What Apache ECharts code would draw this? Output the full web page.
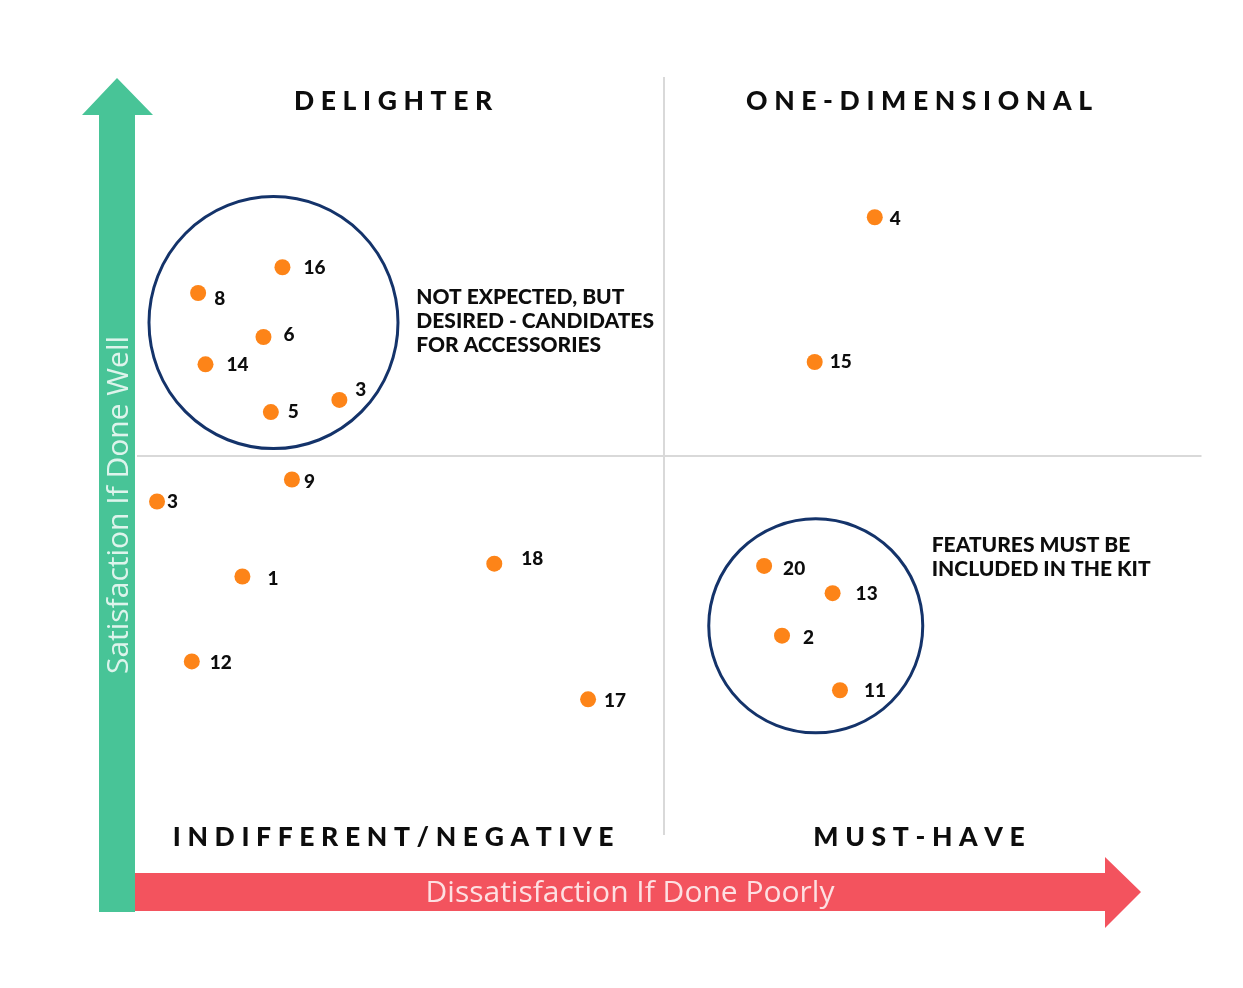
<!DOCTYPE html>
<html>
<head>
	<meta charset="utf-8">
	<title>Kano</title>
	<script type="text/javascript" src="https://cdn.jsdelivr.net/npm/echarts@6/dist/echarts.min.js"></script>
	<style>body{margin:0;background:#fff;}</style>
</head>
<body>
	<div id="main" style="width:1243px;height:988px;"></div>
	<script type="text/javascript">
// feature numbers and their scores (x: dissatisfaction if done poorly, y: satisfaction if done well)
var features = ['16', '8', '6', '14', '5', '3', '4', '15', '9', '3', '1', '18', '12', '17', '20', '13', '2', '11'];
var dissatisfaction = [13.8, 5.8, 12.0, 6.5, 12.7, 19.2, 70.0, 64.3, 14.7, 1.9, 10.0, 33.9, 5.2, 42.8, 59.5, 66.0, 61.2, 66.7];
var satisfaction = [74.9, 71.5, 65.7, 62.1, 55.8, 57.4, 81.5, 62.4, 46.9, 44.0, 34.1, 35.8, 22.9, 17.9, 35.5, 31.9, 26.3, 19.1];

var quadrantNames = ['DELIGHTER', 'ONE-DIMENSIONAL', 'INDIFFERENT/NEGATIVE', 'MUST-HAVE'];
var notes = ['NOT EXPECTED, BUT\nDESIRED - CANDIDATES\nFOR ACCESSORIES', 'FEATURES MUST BE\nINCLUDED IN THE KIT'];
var xAxisName = 'Dissatisfaction If Done Poorly';
var yAxisName = 'Satisfaction If Done Well';

// layout only
var quadrantPos = [[24.3, 96.8], [74.2, 96.8], [24.3, -0.35], [74.2, -0.35]];
var notePos = [[26.5, 67.8], [75.4, 36.6]];
var rings = [{c: [12.95, 67.6], size: [249, 252]}, {c: [64.4, 27.6], size: [214, 214]}];
var labelNudge = [[13, 1], [8, 6], [12, -2], [13, 1], [9, 0], [8, -10], [7, 2], [7, 0], [4, 2],
    [2, 0], [17, 2], [19, -5], [10, 1], [8, 2], [11, 3], [15, 1], [13, 2], [16, 1]];

var spaced = function (s) {
    return s.split('').join('\u2005');
};

var points = features.map(function (f, i) {
    return {
        name: f,
        value: [dissatisfaction[i], satisfaction[i]],
        label: {offset: labelNudge[i]}
    };
});

var GREEN = '#48c497';
var RED = '#f3535e';
var INK = '#0d0d0d';

option = {
    animation: false,
    backgroundColor: '#fff',
    grid: {left: 137, top: 77, width: 1064.5, height: 758},
    xAxis: {type: 'value', min: 0, max: 101, show: false},
    yAxis: {type: 'value', min: 0, max: 100, show: false},
    graphic: [
        {
            type: 'polygon',
            shape: {points: [[99, 912], [99, 115], [82, 115], [117, 78], [153, 115], [135, 115], [135, 912]]},
            style: {fill: GREEN}
        },
        {
            type: 'polygon',
            shape: {points: [[135, 873], [1105, 873], [1105, 857], [1141, 892], [1105, 928], [1105, 911], [135, 911]]},
            style: {fill: RED}
        },
        {
            type: 'text',
            x: 119, y: 505,
            rotation: Math.PI / 2,
            style: {
                text: yAxisName,
                fill: 'rgba(255,255,255,0.82)',
                font: '30px "Open Sans"',
                align: 'center',
                verticalAlign: 'middle'
            }
        },
        {
            type: 'text',
            x: 630, y: 893,
            style: {
                text: xAxisName,
                fill: 'rgba(255,255,255,0.82)',
                font: '30px "Open Sans"',
                align: 'center',
                verticalAlign: 'middle'
            }
        }
    ],
    series: [
        {
            name: 'rings',
            type: 'scatter',
            silent: true,
            data: rings.map(function (r) {
                return {value: r.c, symbolSize: r.size};
            }),
            itemStyle: {color: 'rgba(0,0,0,0)', borderColor: '#14336a', borderWidth: 3, opacity: 1},
            z: 1
        },
        {
            name: 'features',
            type: 'scatter',
            data: points,
            symbolSize: 16,
            itemStyle: {color: '#fd8418', opacity: 1},
            label: {
                show: true,
                position: 'right',
                distance: 0,
                formatter: '{b}',
                color: INK,
                fontFamily: 'Lato',
                fontWeight: 900,
                fontSize: 19
            },
            markLine: {
                silent: true,
                symbol: 'none',
                label: {show: false},
                lineStyle: {color: '#d9d9d9', width: 2, type: 'solid', opacity: 1},
                data: [
                    [{coord: [50, 0]}, {coord: [50, 100]}],
                    [{coord: [0, 50]}, {coord: [101, 50]}]
                ]
            },
            z: 3
        },
        {
            name: 'quadrants',
            type: 'scatter',
            silent: true,
            clip: false,
            symbolSize: 0,
            itemStyle: {opacity: 1},
            data: quadrantNames.map(function (q, i) {
                return {name: spaced(q), value: quadrantPos[i]};
            }),
            label: {
                show: true,
                position: 'inside',
                formatter: '{b}',
                color: INK,
                fontFamily: 'Lato',
                fontWeight: 900,
                fontSize: 26.5
            },
            z: 4
        },
        {
            name: 'notes',
            type: 'scatter',
            silent: true,
            clip: false,
            symbolSize: 0,
            itemStyle: {opacity: 1},
            data: notes.map(function (n, i) {
                return {name: n, value: notePos[i]};
            }),
            label: {
                show: true,
                position: 'right',
                distance: 0,
                formatter: '{b}',
                color: INK,
                fontFamily: 'Lato',
                fontWeight: 900,
                fontSize: 21,
                lineHeight: 24
            },
            z: 4
        }
    ]
};
    var myChart = echarts.init(document.getElementById('main'));
    myChart.setOption(option);
	</script>
</body>
</html>
